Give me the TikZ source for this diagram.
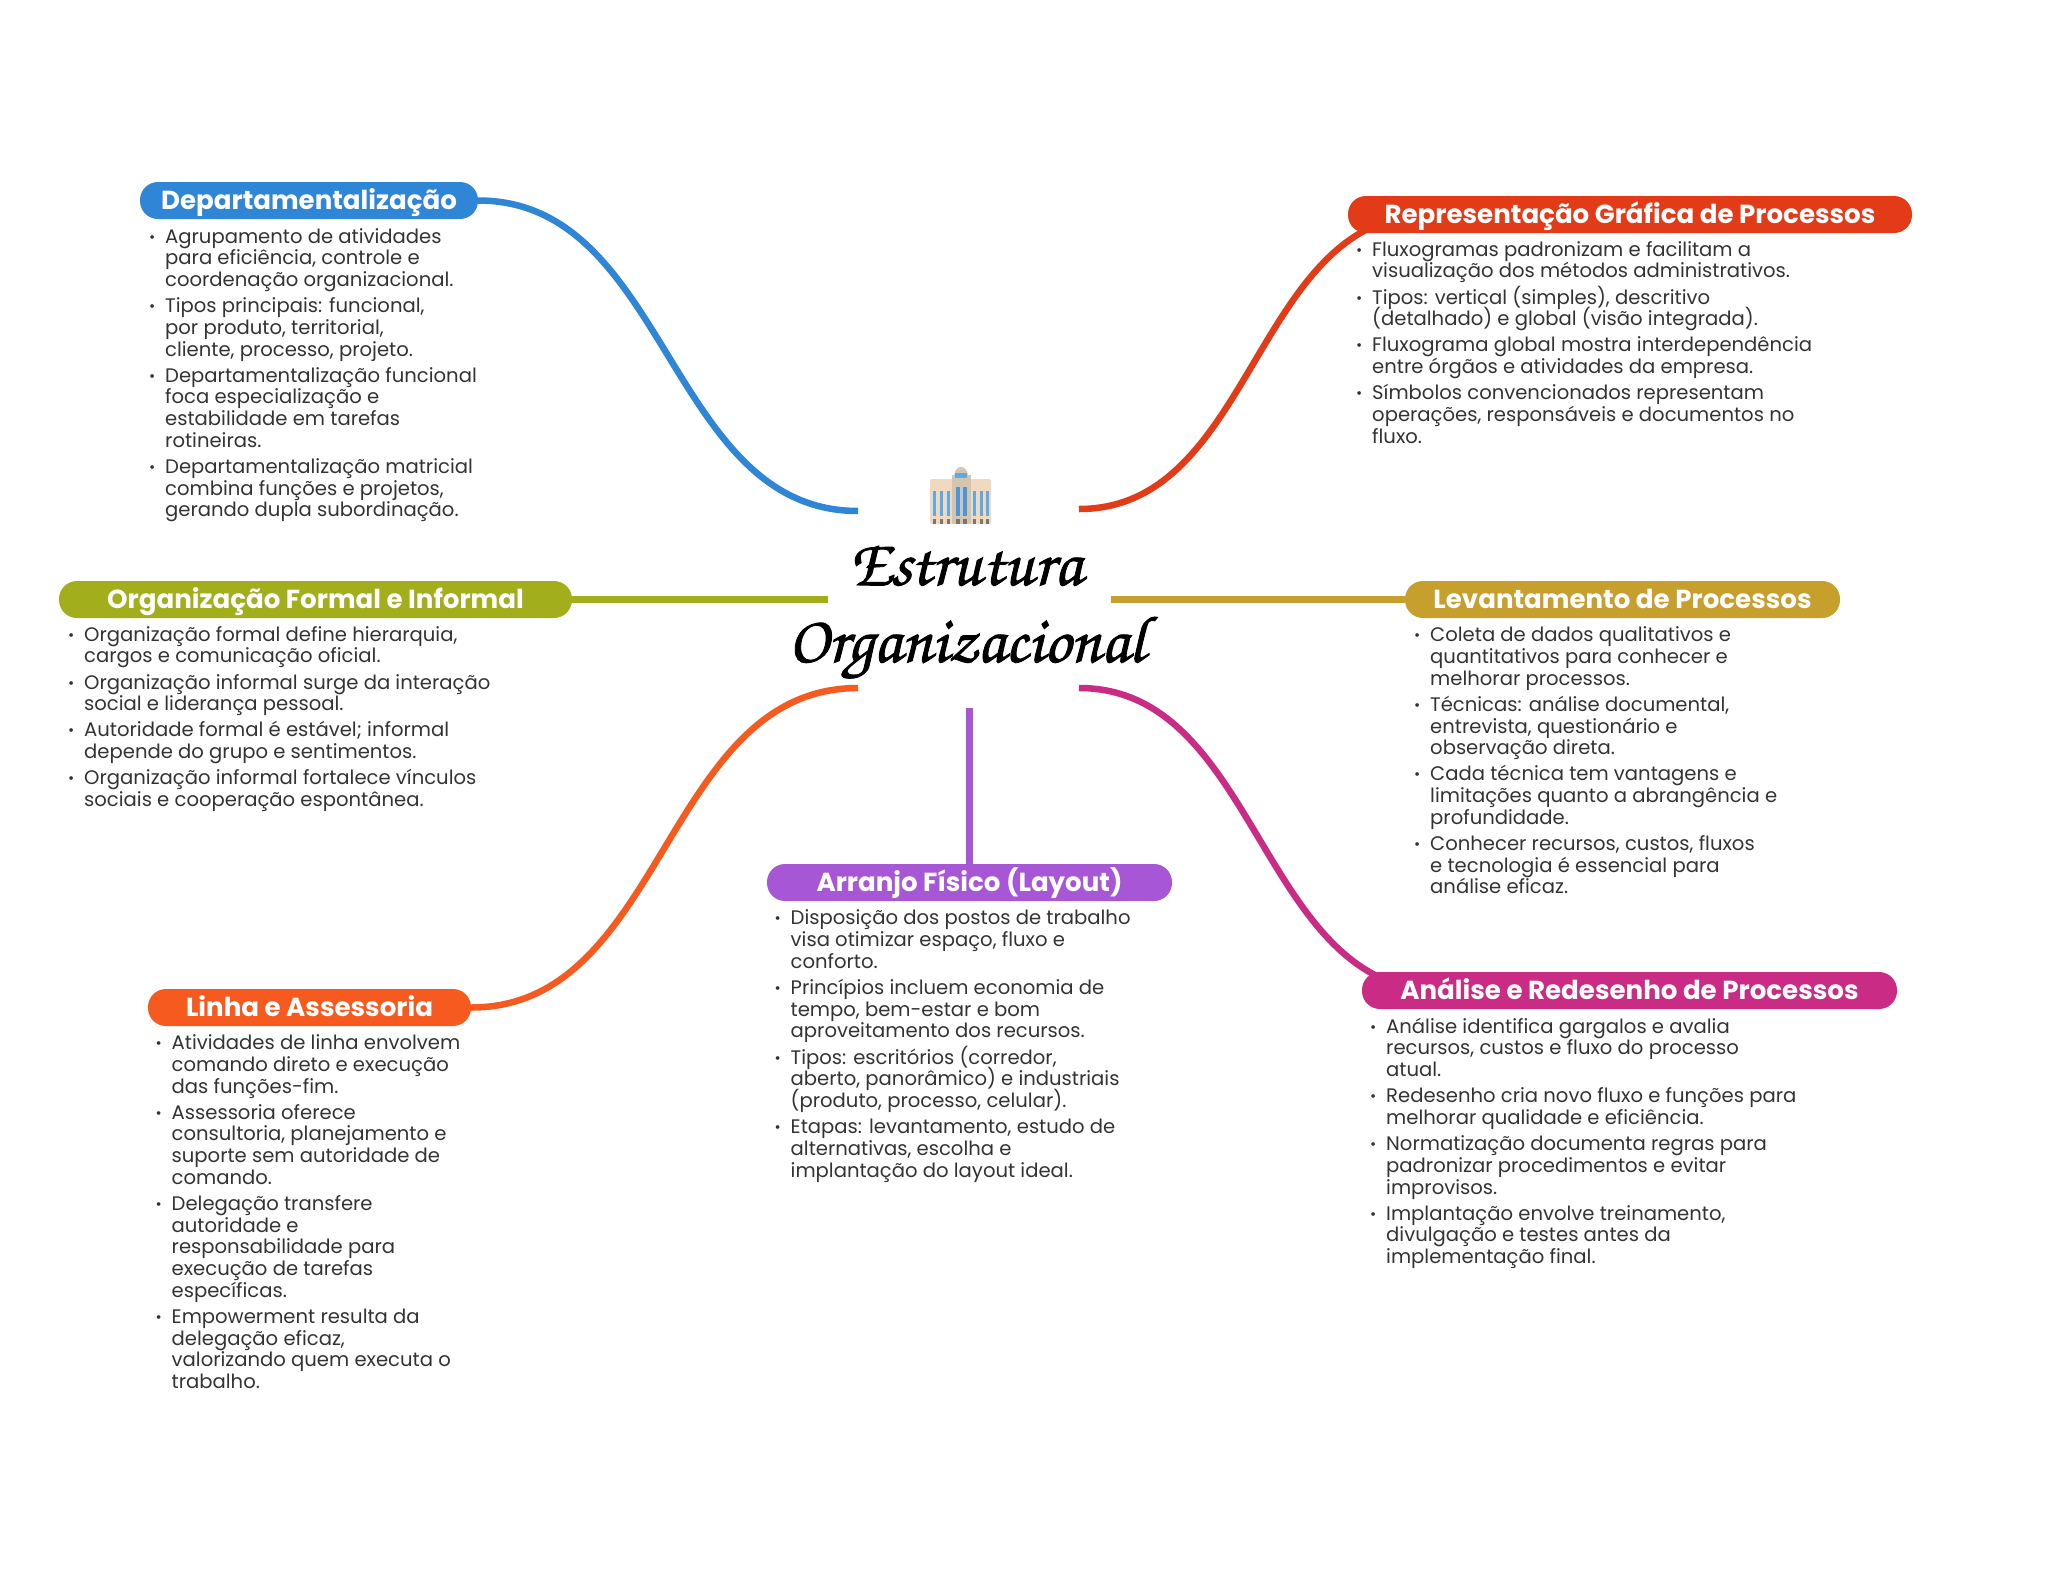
\documentclass[tikz,border=0pt]{standalone}
\usepackage{fontspec}
\setmainfont{Poppins}
\newfontfamily\titlefont[FakeBold=1.3]{TeX Gyre Chorus}
\usetikzlibrary{calc}
\pgfdeclarelayer{back}
\pgfsetlayers{back,main}
\definecolor{cblue}{HTML}{2F85D6}
\definecolor{cred}{HTML}{E33A18}
\definecolor{colive}{HTML}{A2AE1C}
\definecolor{cgold}{HTML}{C69F2D}
\definecolor{cpurple}{HTML}{A757D6}
\definecolor{corange}{HTML}{F75A1F}
\definecolor{cmag}{HTML}{C92B85}
\definecolor{ctext}{HTML}{333333}
\definecolor{bbeige}{HTML}{EFD9BF}
\definecolor{btower}{HTML}{D3C5B0}
\definecolor{bwin}{HTML}{5AABE8}
\definecolor{bwind}{HTML}{4A97DF}
\definecolor{bdark}{HTML}{7A7570}
\newcommand\bodyfont{\fontsize{19.6}{21.75}\selectfont\setlength{\lineskiplimit}{-100pt}}
\newcommand\bu{\rule{0pt}{15pt}\llap{\raisebox{1pt}{\fontsize{15}{15}\selectfont •}\hspace{10pt}}}
\tikzset{
  pill/.style={rectangle,rounded corners=18pt,fill=#1,text=white,minimum height=37pt,inner sep=0pt,
    text height=24pt,text depth=7pt,font=\fontsize{26.1}{30}\selectfont\bfseries},
  bodytext/.style={anchor=north west,inner sep=0pt,align=left,text=ctext,font=\bodyfont},
  conn/.style={draw=#1,line width=6.5pt,line cap=butt},
  titletext/.style={inner sep=0pt,anchor=base,text=black,font=\titlefont\fontsize{66.5}{70}\selectfont}
}
\begin{document}
\begin{tikzpicture}[x=1pt,y=-1pt]
\useasboundingbox (0,0) rectangle (2048,1569);
% hub points
\coordinate (hubTL) at (858,511);
\coordinate (hubTR) at (1079,509);
\coordinate (hubBL) at (858,688);
\coordinate (hubBR) at (1079,688);
\coordinate (hubL) at (828,599.5);
\coordinate (hubR) at (1111,599.5);
\coordinate (hubB) at (969.5,708);
% title
\node[titletext] (t1) at (965.5,585) {Estrutura};
\node[titletext] (t2) at (966.5,662) {Organizacional};
% headers
\node[pill=cblue,minimum width=338pt] (dep) at (309,200.5) {Departamentalização};
\node[pill=cred,minimum width=564pt] (rep) at (1630,214.5) {Representação Gráfica de Processos};
\node[pill=colive,minimum width=513pt] (org) at (315.5,599.5) {Organização Formal e Informal};
\node[pill=cgold,minimum width=435pt] (lev) at (1622.5,599.5) {Levantamento de Processos};
\node[pill=cpurple,minimum width=405pt] (arr) at (969.5,882.5) {Arranjo Físico (Layout)};
\node[pill=corange,minimum width=323pt] (lin) at (309.5,1007.5) {Linha e Assessoria};
\node[pill=cmag,minimum width=535pt] (ana) at (1629.5,990.5) {Análise e Redesenho de Processos};
% connectors
\begin{pgfonlayer}{back}
\draw[conn=cblue] (dep.east) .. controls +(190,0) and +(-190,0) .. (hubTL);
\draw[conn=cred] (hubTR) .. controls +(176,0) and +(-176,0) .. ([xshift=82pt]rep.west);
\draw[conn=colive] (org.east) -- (hubL);
\draw[conn=cgold] (hubR) -- (lev.west);
\draw[conn=cpurple] (hubB) -- (arr.north);
\draw[conn=corange] (lin.east) .. controls +(194,0) and +(-194,0) .. (hubBL);
\draw[conn=cmag] (hubBR) .. controls +(180,0) and +(-180,0) .. ([xshift=78pt]ana.west);
\end{pgfonlayer}
% body text
\node[bodytext] (depB) at (165,227.8) {\bu Agrupamento de atividades\\para eficiência, controle e\\coordenação organizacional.\\[4.3pt]
\bu Tipos principais: funcional,\\por produto, territorial,\\cliente, processo, projeto.\\[4.3pt]
\bu Departamentalização funcional\\foca especialização e\\estabilidade em tarefas\\rotineiras.\\[4.3pt]
\bu Departamentalização matricial\\combina funções e projetos,\\gerando dupla subordinação.};
\node[bodytext] (repB) at (1372,241) {\bu Fluxogramas padronizam e facilitam a\\visualização dos métodos administrativos.\\[4.3pt]
\bu Tipos: vertical (simples), descritivo\\(detalhado) e global (visão integrada).\\[4.3pt]
\bu Fluxograma global mostra interdependência\\entre órgãos e atividades da empresa.\\[4.3pt]
\bu Símbolos convencionados representam\\operações, responsáveis e documentos no\\fluxo.};
\node[bodytext] (orgB) at (84,626) {\bu Organização formal define hierarquia,\\cargos e comunicação oficial.\\[4.3pt]
\bu Organização informal surge da interação\\social e liderança pessoal.\\[4.3pt]
\bu Autoridade formal é estável; informal\\depende do grupo e sentimentos.\\[4.3pt]
\bu Organização informal fortalece vínculos\\sociais e cooperação espontânea.};
\node[bodytext] (levB) at (1430,626.5) {\bu Coleta de dados qualitativos e\\quantitativos para conhecer e\\melhorar processos.\\[4.3pt]
\bu Técnicas: análise documental,\\entrevista, questionário e\\observação direta.\\[4.3pt]
\bu Cada técnica tem vantagens e\\limitações quanto a abrangência e\\profundidade.\\[4.3pt]
\bu Conhecer recursos, custos, fluxos\\e tecnologia é essencial para\\análise eficaz.};
\node[bodytext] (arrB) at (790.5,909.7) {\bu Disposição dos postos de trabalho\\visa otimizar espaço, fluxo e\\conforto.\\[4.3pt]
\bu Princípios incluem economia de\\tempo, bem-estar e bom\\aproveitamento dos recursos.\\[4.3pt]
\bu Tipos: escritórios (corredor,\\aberto, panorâmico) e industriais\\(produto, processo, celular).\\[4.3pt]
\bu Etapas: levantamento, estudo de\\alternativas, escolha e\\implantação do layout ideal.};
\node[bodytext] (linB) at (171.5,1034.3) {\bu Atividades de linha envolvem\\comando direto e execução\\das funções-fim.\\[4.3pt]
\bu Assessoria oferece\\consultoria, planejamento e\\suporte sem autoridade de\\comando.\\[4.3pt]
\bu Delegação transfere\\autoridade e\\responsabilidade para\\execução de tarefas\\específicas.\\[4.3pt]
\bu Empowerment resulta da\\delegação eficaz,\\valorizando quem executa o\\trabalho.};
\node[bodytext] (anaB) at (1386,1017.7) {\bu Análise identifica gargalos e avalia\\recursos, custos e fluxo do processo\\atual.\\[4.3pt]
\bu Redesenho cria novo fluxo e funções para\\melhorar qualidade e eficiência.\\[4.3pt]
\bu Normatização documenta regras para\\padronizar procedimentos e evitar\\improvisos.\\[4.3pt]
\bu Implantação envolve treinamento,\\divulgação e testes antes da\\implementação final.};
% building icon
\begin{scope}
\fill[bbeige,rounded corners=2pt] (930,524) rectangle (953,479);
\fill[bbeige,rounded corners=2pt] (970,524) rectangle (991,479);
\fill[btower] (952,524) rectangle (971,475);
\fill[btower] (954,476) .. controls (955,469) and (958,467) .. (961,467) .. controls (964,467) and (967,469) .. (968,476) -- cycle;
\fill[bwin] (955,478) rectangle (967,473);
\foreach \x in {933,940,947,972.5,979.5,986}{
  \fill[bwin] (\x,516) rectangle ++(3.4,-25);
  \fill[bdark] (\x,524) rectangle ++(3.4,-5);
}
\foreach \x in {956,963}{
  \fill[bwind] (\x,516) rectangle ++(3.6,-29);
  \fill[bdark] (\x,524) rectangle ++(3.6,-5);
}
\end{scope}
\end{tikzpicture}
\end{document}
